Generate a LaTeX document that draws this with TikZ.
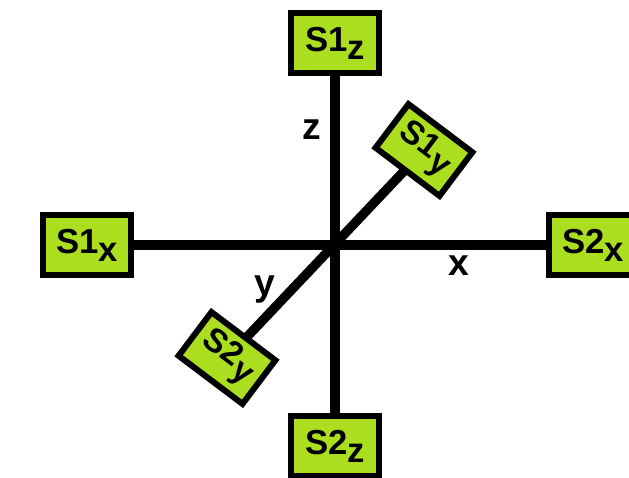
\documentclass[tikz,border=0pt]{standalone}
\usepackage{fontspec}
\setmainfont{Liberation Sans}
\usetikzlibrary{backgrounds}
\definecolor{boxgreen}{RGB}{170,222,30}
\begin{document}
\begin{tikzpicture}[x=0.75pt,y=-0.75pt,
  lbl/.style={font=\fontsize{28}{28}\selectfont\bfseries, inner sep=0pt},
  sbox/.style={draw=black, line width=4.5pt, fill=boxgreen, minimum width=66pt,
    minimum height=45pt, inner sep=0pt, font=\fontsize{26}{26}\selectfont\bfseries},
  dbox/.style={sbox, minimum width=60pt, minimum height=41pt, rotate=-37,
    font=\fontsize{25}{25}\selectfont\bfseries},
  axisline/.style={line width=7pt}]
\useasboundingbox (0,0) rectangle (629,478);
\node[sbox] (s1z) at (335,43) {S1\raisebox{-6pt}{z}};
\node[sbox] (s2z) at (335,446) {S2\raisebox{-6pt}{z}};
\node[sbox] (s1x) at (87,245) {S1\raisebox{-6pt}{x}};
\node[sbox] (s2x) at (593,245) {S2\raisebox{-6pt}{x}};
\node[dbox] (s1y) at (424,150) {S1\kern1pt\raisebox{-6pt}{y}};
\node[dbox] (s2y) at (227,358) {S2\kern1pt\raisebox{-6pt}{y}};
\node[lbl, anchor=base] (lz) at (312,140) {z};
\node[lbl, anchor=base] (ly) at (265,295) {y};
\node[lbl, anchor=base] (lx) at (459,275) {x};
\begin{pgfonlayer}{background}
  \fill[white] (0,0) rectangle (629,478);
  \draw[axisline] (s1z.center) -- (s2z.center);
  \draw[axisline] (s1x.center) -- (s2x.center);
  \draw[axisline] (s2y.center) -- (s1y.center);
\end{pgfonlayer}
\end{tikzpicture}
\end{document}
